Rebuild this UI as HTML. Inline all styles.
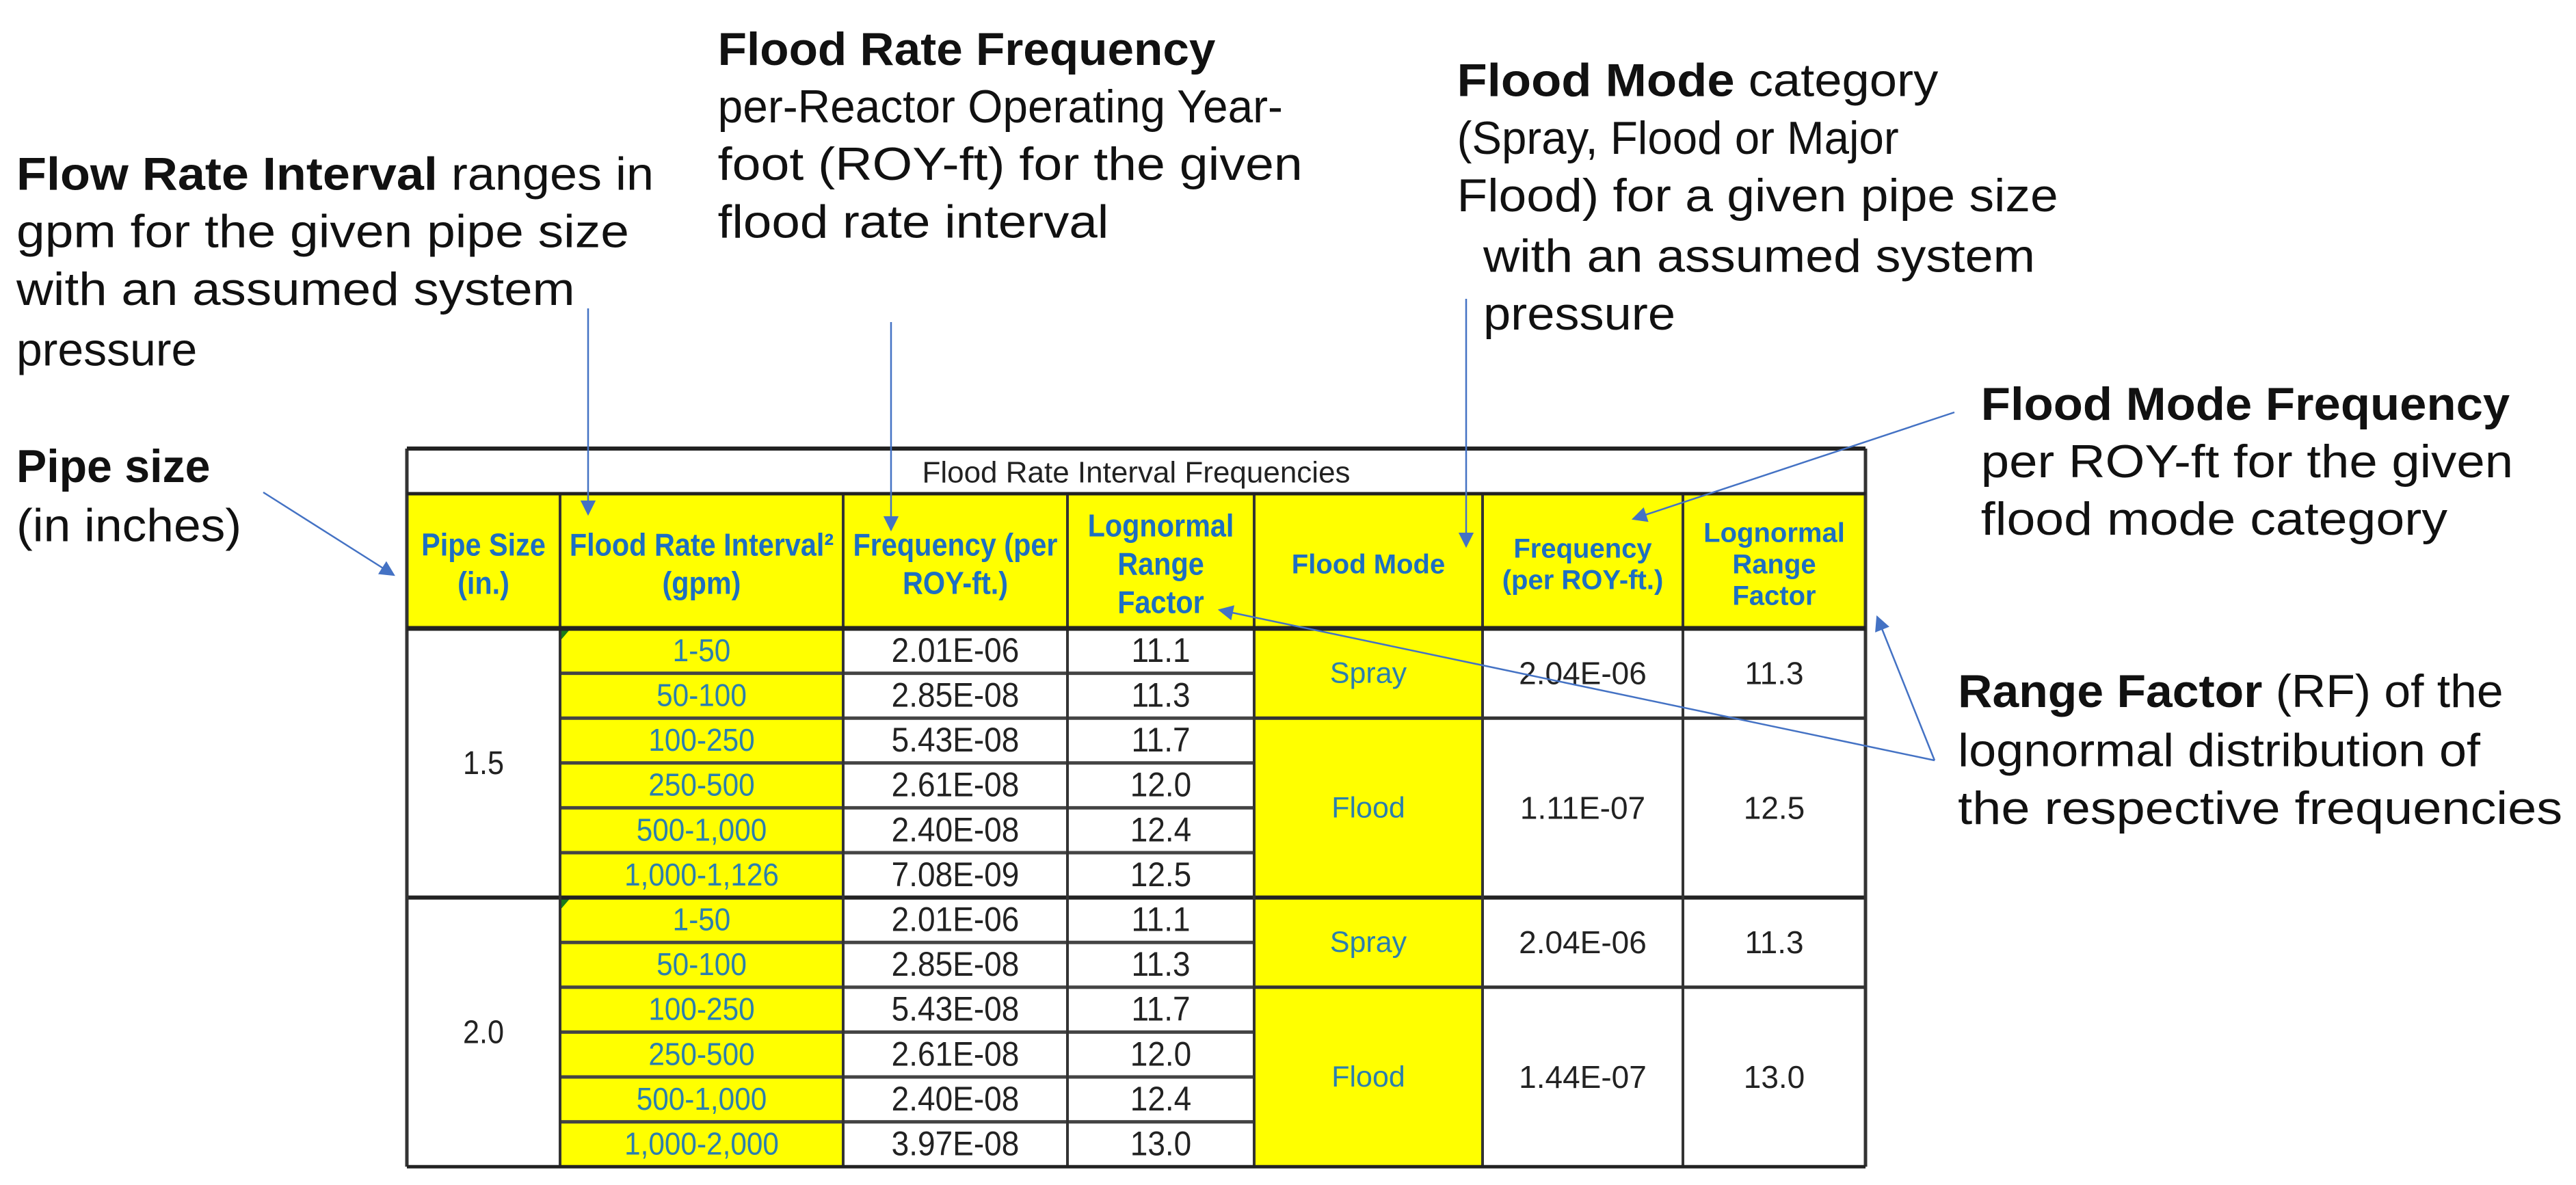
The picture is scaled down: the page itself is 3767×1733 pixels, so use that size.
<!DOCTYPE html>
<html><head><meta charset="utf-8"><style>
html,body{margin:0;padding:0;background:#fff;}
svg{display:block;}
</style></head><body>
<svg id="fig" width="3767" height="1733" viewBox="0 0 3767 1733" xmlns="http://www.w3.org/2000/svg">
<defs>
<marker id="ah" viewBox="0 0 10 10" refX="9" refY="5" markerWidth="9" markerHeight="9" orient="auto-start-reverse" markerUnits="strokeWidth">
<path d="M0,0 L10,5 L0,10 z" fill="#4472C4"/>
</marker>
</defs>
<g id="table"></g>
<g id="notes" font-family="'Liberation Sans', sans-serif" fill="#111"></g>
<g id="arrows" stroke="#4472C4" stroke-width="2.5" fill="none"></g>
</svg>
<script>
const pipeSizes = ["1.5", "2.0"];
const intervals = [["1-50","50-100","100-250","250-500","500-1,000","1,000-1,126"],
                   ["1-50","50-100","100-250","250-500","500-1,000","1,000-2,000"]];
const freqs = [["2.01E-06","2.85E-08","5.43E-08","2.61E-08","2.40E-08","7.08E-09"],
               ["2.01E-06","2.85E-08","5.43E-08","2.61E-08","2.40E-08","3.97E-08"]];
const rangeFactors = [["11.1","11.3","11.7","12.0","12.4","12.5"],
                      ["11.1","11.3","11.7","12.0","12.4","13.0"]];
const modeNames = ["Spray", "Flood"];
const modeRows = [2, 4];
const modeFreqs = [["2.04E-06","1.11E-07"],["2.04E-06","1.44E-07"]];
const modeRFs = [["11.3","12.5"],["11.3","13.0"]];

const NS = "http://www.w3.org/2000/svg";
const T = document.getElementById('table');
const cols = [595, 819, 1233, 1561, 1834, 2168, 2461, 2728];
const yTop = 656, yTitle = 722, yHead = 919, rowH = 65.6;
const BLUE = "#1d6fc2", TEAL = "#2b7fae";
function el(tag, attrs, parent){const e=document.createElementNS(NS,tag);for(const k in attrs)e.setAttribute(k,attrs[k]);parent.appendChild(e);return e;}
function txt(s, x, y, o, parent){
  const t=el('text',{x:0,y:0,'text-anchor':'middle','dominant-baseline':'central','font-family':"'Liberation Sans', Arial, sans-serif",'font-size':o.size,'font-weight':o.bold?'bold':'normal',fill:o.fill||'#222',transform:`translate(${x},${y}) scale(${o.sx||1},1)`},parent);
  t.textContent=s;return t;
}
const rows = pipeSizes.length*6;
const yBot = yHead + rows*rowH;
let r=el('rect',{x:cols[0],y:yTitle,width:cols[7]-cols[0],height:yHead-yTitle,fill:'#ffff00'},T);

r=el('rect',{x:cols[1],y:yHead,width:cols[2]-cols[1],height:yBot-yHead,fill:'#ffff00'},T);

r=el('rect',{x:cols[4],y:yHead,width:cols[5]-cols[4],height:yBot-yHead,fill:'#ffff00'},T);

let t=txt("Flood Rate Interval Frequencies",(cols[0]+cols[7])/2,(yTop+yTitle)/2+2,{size:44,sx:1},T);

const heads=[["Pipe Size","(in.)"],["Flood Rate Interval²","(gpm)"],["Frequency (per","ROY-ft.)"],["Lognormal","Range","Factor"],["Flood Mode"],["Frequency","(per ROY-ft.)"],["Lognormal","Range","Factor"]];
heads.forEach((h,i)=>{
  const cx=(cols[i]+cols[i+1])/2, cy=(yTitle+yHead)/2+5, lh=i<4?56:46, sz=i<4?46:40, sx=i<4?0.9:1;
  h.forEach((s,j)=>{const tt=txt(s,cx,cy+(j-(h.length-1)/2)*lh,{size:sz,bold:true,fill:BLUE,sx:sx},T);
    });
});
pipeSizes.forEach((p,s)=>{
  const y0=yHead+s*6*rowH;
  let tp=txt(p,(cols[0]+cols[1])/2,y0+3*rowH,{size:48,sx:0.9},T);
  
  for(let i=0;i<6;i++){
    const cy=y0+(i+0.5)*rowH;
    let a=txt(intervals[s][i],(cols[1]+cols[2])/2,cy,{size:46,fill:TEAL,sx:0.92},T);
    
    let b=txt(freqs[s][i],(cols[2]+cols[3])/2,cy,{size:50,sx:0.92},T);
    
    let c=txt(rangeFactors[s][i],(cols[3]+cols[4])/2,cy,{size:50,sx:0.92},T);
    
    if(i>0){let ln=el('line',{x1:cols[1],x2:cols[4],y1:y0+i*rowH,y2:y0+i*rowH,stroke:'#444','stroke-width':5},T);
      }
  }
  let tri=el('path',{d:`M${cols[1]+2},${y0+2} l12,0 l-12,14 z`,fill:'#1a7a1a'},T);
  
  let acc=0;
  modeNames.forEach((m,k)=>{
    const ya=y0+acc*rowH, yb=ya+modeRows[k]*rowH, cy=(ya+yb)/2; acc+=modeRows[k];
    let mm=txt(m,(cols[4]+cols[5])/2,cy,{size:43,fill:TEAL},T);
    
    let mf=txt(modeFreqs[s][k],(cols[5]+cols[6])/2,cy,{size:46},T);
    
    let mr=txt(modeRFs[s][k],(cols[6]+cols[7])/2,cy,{size:46},T);
    
    if(k>0){let ln=el('line',{x1:cols[4],x2:cols[7],y1:ya,y2:ya,stroke:'#333','stroke-width':5},T);
      }
  });
  if(s>0){let ln=el('line',{x1:cols[0],x2:cols[7],y1:y0,y2:y0,stroke:'#222','stroke-width':6},T);
    }
});
cols.forEach((x,i)=>{
  const y1=(i===0||i===7)?yTop:yTitle;
  let ln=el('line',{x1:x,x2:x,y1:y1,y2:yBot,stroke:'#333','stroke-width':(i===0||i===7)?5:4},T);
  
});
[[yTop,6],[yTitle,5],[yHead,7],[yBot,5]].forEach(([y,w])=>{
  let ln=el('line',{x1:cols[0],x2:cols[7],y1:y,y2:y,stroke:'#222','stroke-width':w},T);
  
});

const N=document.getElementById('notes');
const S=2.402;
const notes=[
 [437,30,740,[["Flood Rate Frequency",1]],'flood-rate-frequency-title'],
 [437,65,781,[["per-Reactor Operating Year-",0]],'note-line'],
 [437,100,793,[["foot (ROY-ft) for the given",0]],'note-line'],
 [437,135,675,[["flood rate interval",0]],'note-line'],
 [10,106,398,[["Flow Rate Interval",1],[" ranges in",0]],'flow-rate-interval-note'],
 [10,141,383,[["gpm for the given pipe size",0]],'note-line'],
 [10,176,350,[["with an assumed system",0]],'note-line'],
 [10,213,120,[["pressure",0]],'note-line'],
 [10,284,128,[["Pipe size",1]],'pipe-size-note'],
 [10,320,147,[["(in inches)",0]],'note-line'],
 [887,49,1180,[["Flood Mode",1],[" category",0]],'flood-mode-note'],
 [887,84,1156,[["(Spray, Flood or Major",0]],'note-line'],
 [887,119,1253,[["Flood) for a given pipe size",0]],'note-line'],
 [903,156,1239,[["with an assumed system",0]],'note-line'],
 [903,191,1020,[["pressure",0]],'note-line'],
 [1206,246,1528,[["Flood Mode Frequency",1]],'flood-mode-frequency-note'],
 [1206,281,1530,[["per ROY-ft for the given",0]],'note-line'],
 [1206,316,1490,[["flood mode category",0]],'note-line'],
 [1192,421,1524,[["Range Factor",1],[" (RF) of the",0]],'range-factor-note'],
 [1192,457,1510,[["lognormal distribution of",0]],'note-line'],
 [1192,492,1560,[["the respective frequencies",0]],'note-line'],
];
notes.forEach(([x,y,x2,parts,name])=>{
  const t=el('text',{x:x*S,y:y*S,'dominant-baseline':'central','font-size':68,textLength:(x2-x)*S,lengthAdjust:'spacingAndGlyphs'},N);
  
  
  parts.forEach(([s,b])=>{const ts=el('tspan',{'font-weight':b?'bold':'normal'},t);ts.textContent=s;});
});
const A=document.getElementById('arrows');
const arrows=[
 [[860,451],[860,752],'flow-rate-arrow'],
 [[1303,471],[1303,775],'flood-rate-frequency-arrow'],
 [[385,720],[576,841],'pipe-size-arrow'],
 [[2144,437],[2144,799],'flood-mode-arrow'],
 [[2858,603],[2388,759],'flood-mode-frequency-arrow'],
 [[2829,1112],[2745,902],'range-factor-arrow-right'],
 [[2829,1112],[1783,892],'range-factor-arrow-left'],
];
arrows.forEach(([a,b,name])=>{
  const l=el('line',{x1:a[0],y1:a[1],x2:b[0],y2:b[1],'marker-end':'url(#ah)'},A);
  
  
});
</script>
</body></html>
